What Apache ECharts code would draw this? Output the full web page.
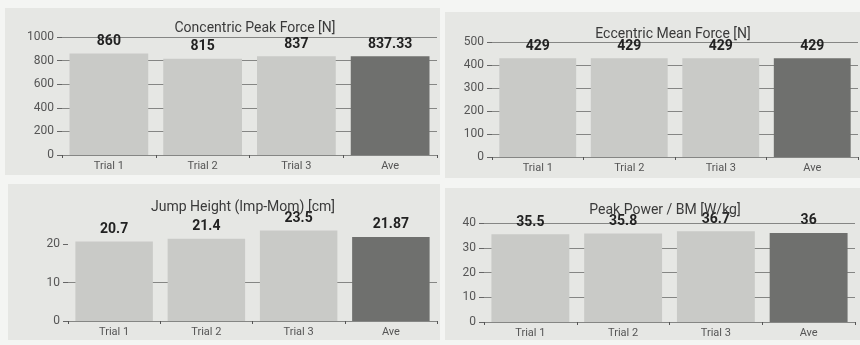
<!DOCTYPE html>
<html>
<head>
<meta charset="utf-8">
<script src="https://cdn.jsdelivr.net/npm/echarts@6/dist/echarts.min.js"></script>
<style>
  html, body { margin: 0; padding: 0; background: #f4f5f3; }
  #main { width: 860px; height: 345px; }
</style>
</head>
<body>
<div id="main"></div>
<script>
// categories and values
var categories = ['Trial 1', 'Trial 2', 'Trial 3', 'Ave']
var titles = ['Concentric Peak Force [N]', 'Eccentric Mean Force [N]', 'Jump Height (Imp-Mom) [cm]', 'Peak Power / BM [W/kg]']
var peakForce = [860, 815, 837, 837.33]
var meanForce = [429, 429, 429, 429]
var jumpHeight = [20.7, 21.4, 23.5, 21.87]
var peakPower = [35.5, 35.8, 36.7, 36]
var axisMax = [1000, 500, 26, 40]
var axisStep = [200, 100, 10, 10]
var jumpTicks = [0, 10, 20]

var allData = [peakForce, meanForce, jumpHeight, peakPower]

// panel boxes and plot areas (px)
var panels = [
  { x: 5, y: 8, w: 435, h: 167 },
  { x: 445, y: 12, w: 415, h: 166 },
  { x: 8, y: 184, w: 432, h: 156 },
  { x: 445, y: 188, w: 415, h: 152 }
]
var grids = [
  { left: 62, top: 37, width: 375, height: 118 },
  { left: 492, top: 42, width: 366, height: 115 },
  { left: 68, top: 221, width: 369, height: 100 },
  { left: 484, top: 223, width: 371, height: 99 }
]
var titlePos = [[250, 16], [668, 22], [238, 195], [660, 198]]

var trialColor = '#c9cac7'
var aveColor = '#6f706e'
var lineColor = '#858684'

var myChart = echarts.init(document.getElementById('main'))

var option = {
  backgroundColor: '#f4f5f3',
  textStyle: { fontFamily: 'Roboto' },
  animation: false,
  graphic: panels.map(function (p) {
    return {
      type: 'rect',
      shape: { x: p.x, y: p.y, width: p.w, height: p.h },
      style: { fill: '#e6e7e4' },
      z: -10
    }
  }),
  title: titles.map(function (t, i) {
    return {
      text: t,
      left: titlePos[i][0],
      top: titlePos[i][1],
      textAlign: 'center',
      textStyle: { fontSize: 14, fontWeight: 'normal', color: '#3a3a3a', fontFamily: 'Roboto' }
    }
  }),
  grid: grids,
  xAxis: grids.map(function (g, i) {
    return {
      type: 'category',
      gridIndex: i,
      data: categories,
      axisLine: { show: true, lineStyle: { color: lineColor, width: 1 } },
      axisTick: { show: true, length: 3, lineStyle: { color: '#555' } },
      axisLabel: { color: '#555', fontSize: 11, margin: 6 }
    }
  }),
  yAxis: grids.map(function (g, i) {
    var ax = {
      type: 'value',
      gridIndex: i,
      min: 0,
      max: axisMax[i],
      interval: axisStep[i],
      axisLine: { show: false },
      axisTick: { show: true, length: 5, lineStyle: { color: '#666' } },
      axisLabel: {
        color: '#555',
        fontSize: 12,
        margin: 8,
        formatter: function (v) { return String(v) }
      },
      splitLine: { show: true, lineStyle: { color: lineColor, width: 1 } }
    }
    if (i === 2) {
      ax.axisLabel.customValues = jumpTicks
      ax.axisTick.customValues = jumpTicks
      ax.splitLine.showMaxLine = false
    }
    return ax
  }),
  series: allData.map(function (d, i) {
    return {
      type: 'bar',
      xAxisIndex: i,
      yAxisIndex: i,
      barCategoryGap: '16%',
      data: d.map(function (v, j) {
        return { value: v, itemStyle: { color: j === categories.length - 1 ? aveColor : trialColor } }
      }),
      label: {
        show: true,
        position: 'top',
        distance: 5,
        fontSize: 14,
        fontWeight: 'bold',
        color: '#222',
        fontFamily: 'Roboto'
      }
    }
  })
}

myChart.setOption(option)
</script>
</body>
</html>
